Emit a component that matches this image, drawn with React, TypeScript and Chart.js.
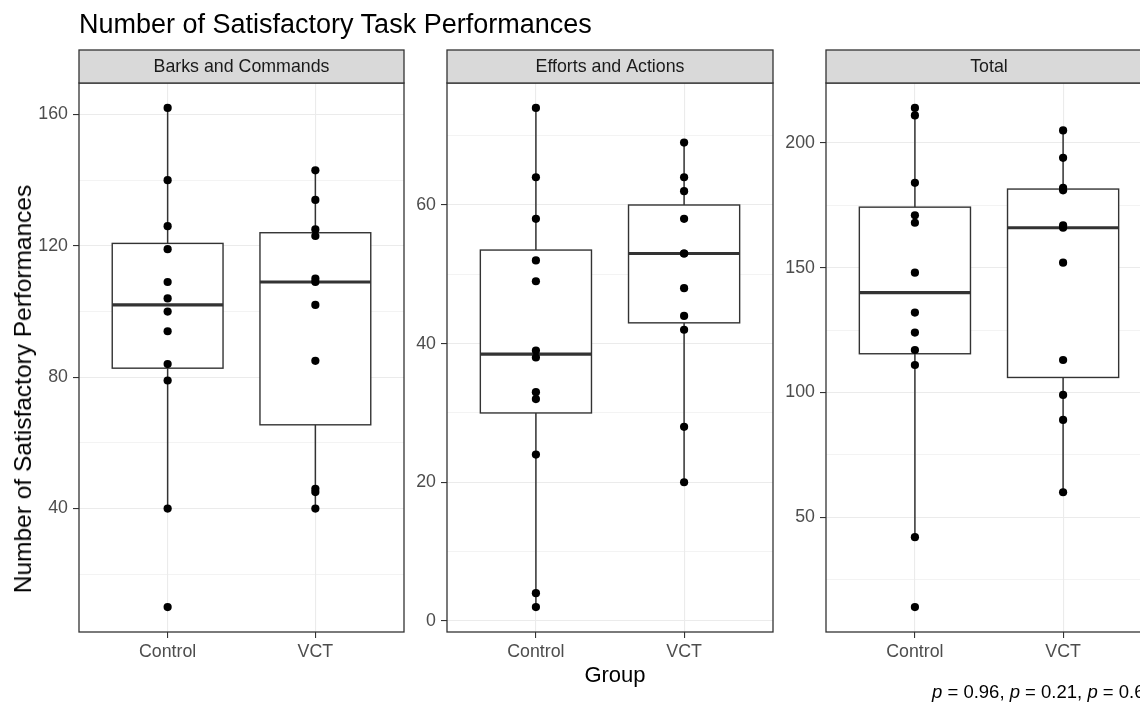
import React, { useEffect, useRef } from 'react';
import { Chart, registerables } from 'chart.js';

Chart.register(...registerables);

// ---------- data ----------
const categories = ['Control', 'VCT'];
const panelTitles = ['Barks and Commands', 'Efforts and Actions', 'Total'];

const barksControl = [162, 140, 126, 119, 109, 104, 100, 94, 84, 79, 40, 10];
const barksVCT = [143, 134, 125, 123, 110, 109, 102, 85, 46, 45, 40];

const effortsControl = [74, 64, 58, 52, 49, 39, 38, 33, 32, 24, 4, 2];
const effortsVCT = [69, 64, 62, 58, 53, 53, 48, 44, 42, 28, 20];

const totalControl = [214, 211, 184, 171, 168, 148, 132, 124, 117, 111, 42, 14];
const totalVCT = [205, 194, 182, 181, 167, 166, 152, 113, 99, 89, 60];

const barksMajor = [40, 80, 120, 160];
const barksMinor = [20, 60, 100, 140];
const effortsMajor = [0, 20, 40, 60];
const effortsMinor = [10, 30, 50, 70];
const totalMajor = [50, 100, 150, 200];
const totalMinor = [25, 75, 125, 175];

const chartTitle = 'Number of Satisfactory Task Performances';
const yTitle = 'Number of Satisfactory Performances';
const xTitle = 'Group';
const caption = ['0.96', '0.21', '0.6'];

// ---------- helpers ----------
const FONT = '"Liberation Sans", Arial, Helvetica, sans-serif';
const TICK_SIZE = 17.8;

function quantile(sorted: number[], p: number) {
  const pos = (sorted.length - 1) * p;
  const lo = Math.floor(pos);
  const hi = Math.ceil(pos);
  return sorted[lo] + (sorted[hi] - sorted[lo]) * (pos - lo);
}

function boxStats(values: number[]) {
  const s = [...values].sort((a, b) => a - b);
  const q1 = quantile(s, 0.25);
  const med = quantile(s, 0.5);
  const q3 = quantile(s, 0.75);
  const iqr = q3 - q1;
  const inside = s.filter((v) => v >= q1 - 1.5 * iqr && v <= q3 + 1.5 * iqr);
  return { q1, med, q3, lo: inside[0], hi: inside[inside.length - 1] };
}

const boxPlugin = {
  id: 'boxes',
  beforeDatasetsDraw(chart: any) {
    const groups: number[][] = chart.options.plugins.boxes.groups;
    const xs = chart.scales.x;
    const ys = chart.scales.y;
    const ctx = chart.ctx;
    ctx.save();
    groups.forEach((vals, i) => {
      const st = boxStats(vals);
      const cx = xs.getPixelForValue(i + 1);
      const hw = Math.abs(xs.getPixelForValue(i + 1 + 0.375) - cx);
      const yq1 = ys.getPixelForValue(st.q1);
      const yq3 = ys.getPixelForValue(st.q3);
      const ymed = ys.getPixelForValue(st.med);
      ctx.strokeStyle = '#333333';
      // whiskers
      ctx.lineWidth = 1.5;
      ctx.beginPath();
      ctx.moveTo(cx, ys.getPixelForValue(st.hi));
      ctx.lineTo(cx, yq3);
      ctx.moveTo(cx, yq1);
      ctx.lineTo(cx, ys.getPixelForValue(st.lo));
      ctx.stroke();
      // box
      ctx.fillStyle = '#ffffff';
      ctx.fillRect(cx - hw, yq3, 2 * hw, yq1 - yq3);
      ctx.lineWidth = 1.4;
      ctx.strokeRect(cx - hw, yq3, 2 * hw, yq1 - yq3);
      // median
      ctx.lineWidth = 3.2;
      ctx.beginPath();
      ctx.moveTo(cx - hw, ymed);
      ctx.lineTo(cx + hw, ymed);
      ctx.stroke();
    });
    ctx.restore();
  },
  afterDraw(chart: any) {
    const { left, right, top, bottom } = chart.chartArea;
    const ctx = chart.ctx;
    const label = chart.options.plugins.boxes.strip;
    ctx.save();
    // panel border
    ctx.strokeStyle = '#333333';
    ctx.lineWidth = 1.3;
    ctx.strokeRect(left, top, right - left, bottom - top);
    // strip
    const sh = 33;
    ctx.fillStyle = '#d9d9d9';
    ctx.fillRect(left, top - sh, right - left, sh);
    ctx.strokeRect(left, top - sh, right - left, sh);
    ctx.fillStyle = '#1a1a1a';
    ctx.font = `17.8px ${FONT}`;
    ctx.textAlign = 'center';
    ctx.textBaseline = 'middle';
    ctx.fillText(label, (left + right) / 2, top - sh / 2 + 1);
    ctx.restore();
  },
};

type PanelProps = {
  left: number;
  width: number;
  strip: string;
  control: number[];
  vct: number[];
  major: number[];
  minor: number[];
  yAxisWidth: number;
  rightPad: number;
};

function Panel(p: PanelProps) {
  const ref = useRef<HTMLCanvasElement>(null);
  useEffect(() => {
    const all = [...p.control, ...p.vct];
    const dmin = Math.min(...all);
    const dmax = Math.max(...all);
    const pad = (dmax - dmin) * 0.05;
    const allTicks = [...p.major, ...p.minor].sort((a, b) => a - b);
    const chart = new Chart(ref.current!, {
      type: 'scatter',
      data: {
        datasets: [
          {
            data: p.control.map((v) => ({ x: 1, y: v })),
            backgroundColor: '#000000',
            borderWidth: 0,
            pointRadius: 4.1,
          },
          {
            data: p.vct.map((v) => ({ x: 2, y: v })),
            backgroundColor: '#000000',
            borderWidth: 0,
            pointRadius: 4.1,
          },
        ],
      },
      options: {
        animation: false,
        responsive: false,
        devicePixelRatio: 1,
        layout: { padding: { top: 83, right: p.rightPad, bottom: 0, left: 0 } },
        plugins: {
          legend: { display: false },
          tooltip: { enabled: false },
          boxes: { groups: [p.control, p.vct], strip: p.strip },
        } as any,
        scales: {
          x: {
            type: 'linear',
            min: 0.4,
            max: 2.6,
            afterBuildTicks: (s: any) => {
              s.ticks = categories.map((_, i) => ({ value: i + 1 }));
            },
            afterFit: (s: any) => {
              s.height = 83;
            },
            ticks: {
              callback: (v: any) => categories[Math.round(Number(v)) - 1] ?? '',
              color: '#4d4d4d',
              font: { size: TICK_SIZE, family: FONT },
              padding: 3,
              autoSkip: false,
              maxRotation: 0,
            },
            grid: {
              color: '#ebebeb',
              lineWidth: 1.1,
              tickLength: 6,
              tickColor: '#333333',
              tickWidth: 1.1,
            },
            border: { display: false },
          },
          y: {
            type: 'linear',
            min: dmin - pad,
            max: dmax + pad,
            afterBuildTicks: (s: any) => {
              s.ticks = allTicks.map((v) => ({ value: v }));
            },
            afterFit: (s: any) => {
              s.width = p.yAxisWidth;
            },
            ticks: {
              callback: (v: any) => (p.major.includes(Number(v)) ? String(v) : ''),
              color: '#4d4d4d',
              font: { size: TICK_SIZE, family: FONT },
              padding: 5,
              autoSkip: false,
            },
            grid: {
              color: '#ebebeb',
              lineWidth: (c: any) => (p.major.includes(c.tick?.value) ? 1.1 : 0.6),
              tickLength: 6,
              tickColor: (c: any) => (p.major.includes(c.tick?.value) ? '#333333' : 'rgba(0,0,0,0)'),
              tickWidth: 1.1,
            },
            border: { display: false },
          },
        },
      },
      plugins: [boxPlugin],
    } as any);
    return () => chart.destroy();
  }, []);
  return (
    <canvas
      ref={ref}
      width={p.width}
      height={715}
      style={{ position: 'absolute', left: p.left, top: 0, width: p.width, height: 715 }}
    />
  );
}

export default function App() {
  return (
    <div
      style={{
        position: 'absolute',
        left: 0,
        top: 0,
        width: 1140,
        height: 715,
        overflow: 'hidden',
        background: '#ffffff',
        fontFamily: FONT,
      }}
    >
      <Panel left={0} width={420} strip={panelTitles[0]} control={barksControl} vct={barksVCT}
        major={barksMajor} minor={barksMinor} yAxisWidth={79} rightPad={16} />
      <Panel left={405} width={385} strip={panelTitles[1]} control={effortsControl} vct={effortsVCT}
        major={effortsMajor} minor={effortsMinor} yAxisWidth={42} rightPad={17} />
      <Panel left={772} width={398} strip={panelTitles[2]} control={totalControl} vct={totalVCT}
        major={totalMajor} minor={totalMinor} yAxisWidth={54} rightPad={18} />
      <div style={{ position: 'absolute', left: 79, top: 9, fontSize: 27, lineHeight: '31px', color: '#000', whiteSpace: 'nowrap' }}>
        {chartTitle}
      </div>
      <div
        style={{
          position: 'absolute',
          left: 23,
          top: 389,
          fontSize: 24.5,
          lineHeight: '28px',
          color: '#000',
          whiteSpace: 'nowrap',
          transform: 'translate(-50%, -50%) rotate(-90deg)',
        }}
      >
        {yTitle}
      </div>
      <div style={{ position: 'absolute', left: 615, top: 675, fontSize: 22, lineHeight: '26px', color: '#000', transform: 'translate(-50%, -50%)', whiteSpace: 'nowrap' }}>
        {xTitle}
      </div>
      <div style={{ position: 'absolute', left: 932, top: 692, fontSize: 18.5, lineHeight: '22px', color: '#000', transform: 'translateY(-50%)', whiteSpace: 'nowrap' }}>
        {caption.map((c, i) => (
          <span key={i}>
            <i>p</i> = {c}
            {i < caption.length - 1 ? ', ' : ''}
          </span>
        ))}
      </div>
    </div>
  );
}
